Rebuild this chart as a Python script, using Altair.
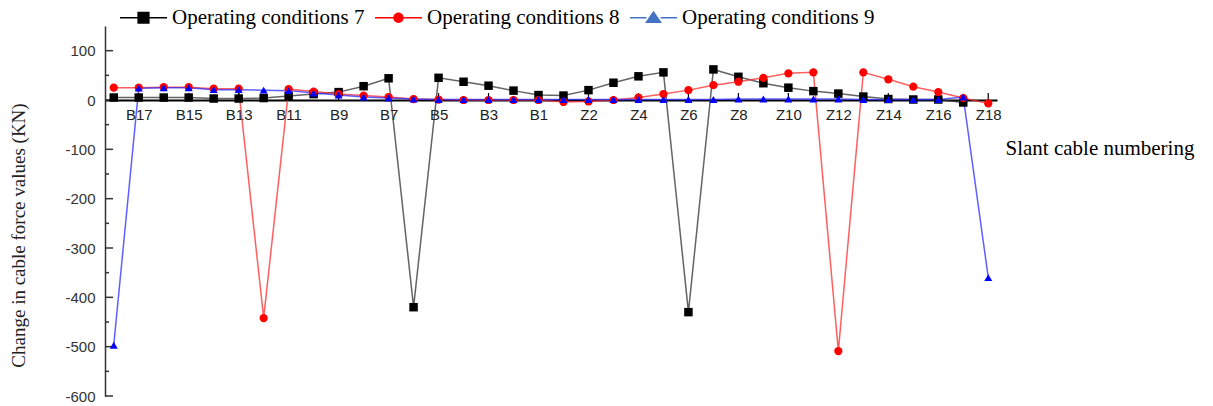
import altair as alt
import pandas as pd

cables = ["B18", "B17", "B16", "B15", "B14", "B13", "B12", "B11", "B10", "B9",
          "B8", "B7", "B6", "B5", "B4", "B3", "B2", "B1",
          "Z1", "Z2", "Z3", "Z4", "Z5", "Z6", "Z7", "Z8", "Z9", "Z10",
          "Z11", "Z12", "Z13", "Z14", "Z15", "Z16", "Z17", "Z18"]

cond7 = [5, 5, 5, 5, 3, 3, 4, 8, 12, 16, 28, 44, -420, 45, 37, 29, 19, 10,
         9, 20, 35, 48, 56, -430, 62, 47, 34, 25, 18, 13, 7, 2, 1, 1, -5, None]
cond8 = [25, 25, 26, 26, 23, 23, -442, 22, 17, 12, 9, 6, 2, 1, 0, 0, 0, 0,
         -4, -3, 0, 5, 12, 20, 30, 37, 45, 54, 56, -509, 56, 42, 27, 16, 4, -7]
cond9 = [-497, 24, 25, 25, 21, 21, 20, 19, 14, 10, 6, 4, 2, 1, 1, 1, 1, 1,
         1, 1, 1, 1, 1, 1, 1, 2, 2, 2, 2, 2, 1, 1, 1, 1, 6, -360]

series_names = ["Operating conditions 7", "Operating conditions 8", "Operating conditions 9"]
label_cables = cables[1::2]
y_major = [-600, -500, -400, -300, -200, -100, 0, 100]
y_minor = [-550, -450, -350, -250, -150, -50, 50]

rows = []
for name, vals in zip(series_names, [cond7, cond8, cond9]):
    for i, (c, v) in enumerate(zip(cables, vals)):
        if v is not None:
            rows.append({"cable": c, "series": name, "value": v, "idx": i})
df = pd.DataFrame(rows)

W, H = 892, 370
Y_DOMAIN = [-600, 150]
zero_from_bottom = H * (0 - Y_DOMAIN[0]) / (Y_DOMAIN[1] - Y_DOMAIN[0])

x_scale = alt.Scale(type="point", domain=cables, padding=0.35)
y_scale = alt.Scale(domain=Y_DOMAIN, nice=False, zero=False)

x_axis = alt.Axis(values=label_cables, offset=-zero_from_bottom, domainColor="black",
                  domainWidth=2, ticks=False, tickSize=0, labelPadding=7,
                  labelFont="Liberation Sans", labelFontSize=15, labelColor="#222",
                  labelAngle=0, labelOverlap=False, grid=False,
                  title="Slant cable numbering", titleFont="Liberation Serif",
                  titleFontSize=21, titleFontWeight="normal", titleColor="black",
                  titleX=900, titleY=48, titleAlign="left", titleBaseline="middle")
y_axis = alt.Axis(values=y_major, domainColor="#333", domainWidth=1.5, ticks=False,
                  tickSize=0, labelPadding=10, labelFont="Liberation Sans",
                  labelFontSize=15, labelColor="#333", grid=False,
                  labelExpr="'' + datum.value",
                  title="Change in cable force values (KN)", titleFont="Liberation Serif",
                  titleFontSize=19, titleFontWeight="normal", titleColor="#222",
                  titleX=-87, titleY=209, titleAngle=270, titleAlign="center",
                  titleBaseline="middle")

base = alt.Chart(df)
X = alt.X("cable:N", scale=x_scale, axis=x_axis, title="Slant cable numbering")
Y = alt.Y("value:Q", scale=y_scale, axis=y_axis, title="Change in cable force values (KN)")

lines = base.mark_line(strokeWidth=1.5, opacity=0.75).encode(
    x=X, y=Y,
    color=alt.Color("series:N", scale=alt.Scale(domain=series_names,
                    range=["#303030", "#ff2a2a", "#2a2aff"]), legend=None),
    order=alt.Order("idx:Q"),
)

points = base.mark_point(filled=True, opacity=1).encode(
    x=X, y=Y,
    color=alt.Color("series:N", scale=alt.Scale(domain=series_names,
                    range=["black", "red", "blue"]), legend=None),
    shape=alt.Shape("series:N", scale=alt.Scale(domain=series_names,
                    range=["square", "circle", "triangle-up"]), legend=None),
    size=alt.Size("series:N", scale=alt.Scale(domain=series_names,
                  range=[72, 64, 135]), legend=None),
)

xt = pd.DataFrame({"cable": label_cables})
x_ticks = alt.Chart(xt).mark_rule(color="black", strokeWidth=1.2).encode(
    x=X,
    y=alt.datum(0),
    y2=alt.datum(14),
)

ytm = pd.DataFrame({"value": y_major})
y_ticks = alt.Chart(ytm).mark_rule(color="#333", strokeWidth=1.5).encode(
    y=Y, x=alt.value(0), x2=alt.value(8),
)
ytn = pd.DataFrame({"value": y_minor})
y_minor_ticks = alt.Chart(ytn).mark_rule(color="#333", strokeWidth=1.5).encode(
    y=Y, x=alt.value(0), x2=alt.value(4),
)

# legend symbols: line + marker (custom paths, [-1,1] units)
p_sq = ("M-1,-0.03L-0.26,-0.03L-0.26,0.03L-1,0.03Z"
        "M0.26,-0.03L1,-0.03L1,0.03L0.26,0.03Z"
        "M-0.26,-0.26L0.26,-0.26L0.26,0.26L-0.26,0.26Z")
p_ci = ("M-1,-0.03L-0.22,-0.03L-0.22,0.03L-1,0.03Z"
        "M0.22,-0.03L1,-0.03L1,0.03L0.22,0.03Z"
        "M-0.22,0A0.22,0.22 0 1,0 0.22,0A0.22,0.22 0 1,0 -0.22,0Z")
p_tr = ("M-1,-0.03L-0.3,-0.03L-0.3,0.03L-1,0.03Z"
        "M0.3,-0.03L1,-0.03L1,0.03L0.3,0.03Z"
        "M0,-0.3L0.36,0.22L-0.36,0.22Z")

leg = alt.Legend(orient="none", legendX=15, legendY=-32, direction="horizontal",
                 title=None, symbolSize=2209, symbolStrokeWidth=0,
                 labelFont="Liberation Serif", labelFontSize=21, labelColor="black",
                 labelOffset=5, columnPadding=10, padding=0, labelLimit=0)

legend_layer = base.transform_filter("false").mark_point(filled=True, opacity=1).encode(
    shape=alt.Shape("series:N", scale=alt.Scale(domain=series_names,
                    range=[p_sq, p_ci, p_tr]), legend=leg),
    color=alt.Color("series:N", scale=alt.Scale(domain=series_names,
                    range=["black", "red", "#4472c4"]), legend=leg),
)

chart = alt.layer(lines, x_ticks, y_ticks, y_minor_ticks, points, legend_layer).resolve_scale(
    color="independent", shape="independent", size="independent"
).properties(
    width=W, height=H,
    padding={"left": 105, "top": 26, "right": 1213 - 105 - W, "bottom": 406 - 26 - H},
    autosize=alt.AutoSizeParams(type="none"),
).configure_view(stroke=None)

chart.save("out.html", embed_options={"renderer": "svg", "actions": False})
